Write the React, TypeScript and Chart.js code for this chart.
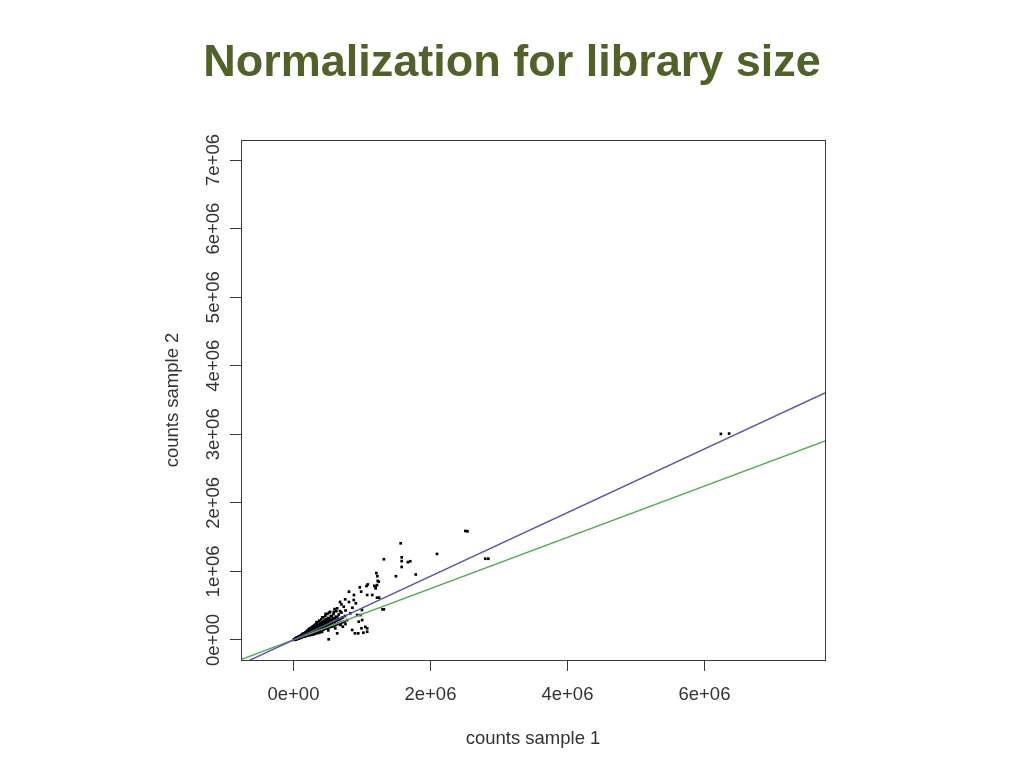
import React, { useEffect, useRef } from "react";
import { Chart, registerables } from "chart.js";

Chart.register(...registerables);

const titleText = "Normalization for library size";
const xAxisTitle = "counts sample 1";
const yAxisTitle = "counts sample 2";

const xTickValues = [0, 2000000, 4000000, 6000000];
const yTickValues = [0, 1000000, 2000000, 3000000, 4000000, 5000000, 6000000, 7000000];

const xRange = [-766000, 7760000];
const yRange = [-292000, 7292000];

// blue line (through origin, slope ~0.464) and green line (slope ~0.374): endpoints
const blueLine = [
  [-766000, -355000],
  [7760000, 3602000],
];
const greenLine = [
  [-766000, -286000],
  [7760000, 2902000],
];

// outlying genes
const outlierPoints = [
  [6240000, 3005000], [6360000, 3010000],
  [2510000, 1590000], [2540000, 1585000],
  [1565000, 1410000],
  [2095000, 1255000],
  [2800000, 1185000], [2845000, 1185000],
  [1320000, 1178000],
  [1580000, 1205000], [1580000, 1150000], [1580000, 1065000],
  [1670000, 1135000], [1705000, 1148000],
  [1785000, 955000],
  [1495000, 930000],
  [1210000, 975000], [1225000, 930000], [1245000, 850000], [1230000, 862000], [1220000, 800000], [1200000, 775000],
  [1085000, 810000], [1066000, 787000], [968000, 768000], [1180000, 790000], [1200000, 753000],
  [810000, 705000], [988000, 705000], [1076000, 656000], [1150000, 656000], [883000, 656000],
  [1220000, 617000], [1250000, 617000],
  [755000, 593000], [880000, 583000], [810000, 554000], [910000, 535000], [680000, 554000],
  [1300000, 447000], [1320000, 447000],
  [1000000, 437000], [930000, 364000], [978000, 364000], [638000, 462000], [734000, 485000], [590000, 410000], [830000, 390000],
  [1003000, 290000], [953000, 267000], [1050000, 190000], [1076000, 170000], [993000, 170000],
  [898000, 97000], [945000, 97000], [1020000, 106000], [1076000, 120000], [857000, 146000], [638000, 97000], [514000, 10000],
  [784000, 290000], [760000, 233000], [686000, 219000], [720000, 194000], [610000, 170000],
  [700000, 520000], [760000, 430000], [860000, 470000], [640000, 330000], [560000, 345000],
  [520000, 400000], [470000, 380000], [600000, 450000], [420000, 330000], [680000, 420000],
];

// dense cloud of genes near the origin
const clusterPoints = [
  [8000, 5000], [12000, 8000], [15000, 3000], [5000, 2000], [20000, 10000],
  [28000, 12000], [32000, 18000], [35000, 8000], [30000, 22000], [40000, 15000],
  [48000, 20000], [52000, 30000], [55000, 15000], [50000, 25000], [46000, 35000],
  [68000, 25000], [72000, 38000], [70000, 45000], [75000, 30000], [66000, 20000],
  [88000, 35000], [92000, 45000], [90000, 55000], [95000, 28000], [86000, 40000],
  [108000, 40000], [112000, 55000], [110000, 65000], [115000, 35000], [105000, 48000], [118000, 72000],
  [128000, 50000], [132000, 62000], [135000, 75000], [125000, 42000], [130000, 85000], [138000, 58000],
  [148000, 55000], [152000, 70000], [150000, 85000], [155000, 48000], [146000, 95000], [158000, 62000],
  [168000, 60000], [172000, 78000], [170000, 92000], [175000, 110000], [165000, 52000], [178000, 70000],
  [188000, 68000], [192000, 85000], [190000, 100000], [195000, 120000], [185000, 60000], [198000, 135000],
  [208000, 75000], [212000, 95000], [210000, 110000], [215000, 130000], [205000, 65000], [218000, 145000],
  [228000, 80000], [232000, 100000], [230000, 120000], [235000, 140000], [225000, 160000], [238000, 70000],
  [248000, 88000], [252000, 110000], [250000, 130000], [255000, 150000], [245000, 170000], [258000, 75000],
  [268000, 95000], [272000, 115000], [270000, 140000], [275000, 165000], [265000, 185000], [278000, 80000],
  [288000, 100000], [292000, 125000], [290000, 150000], [295000, 180000], [285000, 200000], [298000, 85000],
  [308000, 110000], [312000, 135000], [310000, 160000], [315000, 190000], [305000, 215000], [318000, 90000],
  [328000, 115000], [332000, 145000], [330000, 175000], [335000, 205000], [325000, 230000], [338000, 260000],
  [348000, 125000], [352000, 150000], [350000, 185000], [355000, 220000], [345000, 250000], [358000, 100000],
  [378000, 130000], [382000, 165000], [380000, 200000], [385000, 240000], [375000, 280000], [388000, 110000],
  [408000, 140000], [412000, 180000], [410000, 220000], [415000, 260000], [405000, 300000], [418000, 120000],
  [438000, 150000], [442000, 195000], [440000, 235000], [445000, 280000], [435000, 330000],
  [468000, 165000], [472000, 210000], [470000, 250000], [475000, 300000], [465000, 350000],
  [498000, 175000], [502000, 225000], [500000, 270000], [505000, 320000], [495000, 380000], [508000, 140000],
  [538000, 190000], [542000, 240000], [540000, 290000], [545000, 350000], [535000, 410000],
  [578000, 200000], [582000, 260000], [580000, 310000], [585000, 380000],
  [618000, 220000], [622000, 280000], [620000, 340000], [625000, 420000],
  [658000, 240000], [662000, 300000], [660000, 370000],
  [698000, 250000], [702000, 320000], [700000, 400000],
  [748000, 270000], [752000, 350000],
];

// extra genes filling the core of the cloud
const clusterCore = [
  [18000, 6000], [25000, 14000], [38000, 12000], [42000, 24000], [58000, 22000], [62000, 32000],
  [78000, 34000], [82000, 26000], [98000, 42000], [102000, 36000], [100000, 58000], [120000, 48000],
  [122000, 60000], [140000, 52000], [142000, 68000], [144000, 80000], [160000, 58000], [162000, 72000],
  [164000, 88000], [180000, 64000], [182000, 80000], [184000, 96000], [200000, 72000], [202000, 90000],
  [204000, 106000], [220000, 78000], [222000, 96000], [224000, 114000], [240000, 84000], [242000, 104000],
  [244000, 124000], [260000, 90000], [262000, 112000], [264000, 134000], [280000, 96000], [282000, 120000],
  [284000, 144000], [300000, 104000], [302000, 128000], [304000, 152000], [320000, 108000], [322000, 134000],
  [324000, 160000], [340000, 118000], [342000, 144000], [344000, 170000], [360000, 124000], [362000, 152000],
  [364000, 180000], [366000, 208000], [392000, 140000], [394000, 172000], [396000, 206000], [398000, 236000],
  [422000, 150000], [424000, 186000], [426000, 222000], [428000, 256000], [452000, 162000], [454000, 200000],
  [456000, 240000], [458000, 276000], [484000, 172000], [486000, 214000], [488000, 256000], [490000, 296000],
  [518000, 186000], [520000, 230000], [522000, 272000], [524000, 316000], [556000, 200000], [558000, 248000],
  [560000, 296000], [598000, 214000], [600000, 262000], [602000, 318000], [640000, 232000], [642000, 288000],
  [680000, 246000], [682000, 306000], [720000, 262000], [722000, 330000],
];

const fmtExp = (v: number) => {
  const [m, e] = v.toExponential(0).split("e");
  const sign = e[0] === "-" ? "-" : "+";
  const digits = e.replace(/[+-]/, "").padStart(2, "0");
  return `${m}e${sign}${digits}`;
};

const axisColor = "#3a3a3a";
const textColor = "#333333";
const tickFont = { family: "'Liberation Sans', Arial, sans-serif", size: 18.5 };

const boxPlugin = {
  id: "plotBox",
  afterDatasetsDraw(chart: any) {
    const { ctx, chartArea } = chart;
    ctx.save();
    ctx.strokeStyle = axisColor;
    ctx.lineWidth = 1;
    ctx.strokeRect(
      Math.round(chartArea.left) + 0.5,
      Math.round(chartArea.top) + 0.5,
      Math.round(chartArea.right - chartArea.left),
      Math.round(chartArea.bottom - chartArea.top)
    );
    ctx.restore();
  },
};

export default function App() {
  const canvasRef = useRef<HTMLCanvasElement | null>(null);

  useEffect(() => {
    if (!canvasRef.current) return;
    const toXY = (arr: number[][]) => arr.map(([x, y]) => ({ x, y }));
    const chart = new Chart(canvasRef.current, {
      type: "scatter",
      data: {
        datasets: [
          {
            label: "blue",
            data: toXY(blueLine),
            showLine: true,
            borderColor: "#5555aa",
            borderWidth: 1.4,
            pointRadius: 0,
            order: 0,
          },
          {
            label: "green",
            data: toXY(greenLine),
            showLine: true,
            borderColor: "#5aae5a",
            borderWidth: 1.4,
            pointRadius: 0,
            order: 0,
          },
          {
            label: "genes",
            data: toXY([...clusterPoints, ...clusterCore, ...outlierPoints]),
            pointStyle: "rect",
            pointRadius: 1.9,
            pointBorderWidth: 0,
            backgroundColor: "#000000",
            borderColor: "#000000",
            order: 1,
          },
        ],
      },
      options: {
        responsive: false,
        animation: false,
        layout: { padding: { left: 0, right: 0, top: 0, bottom: 0 } },
        plugins: {
          legend: { display: false },
          tooltip: { enabled: false },
          title: {
            display: true,
            text: titleText,
            color: "#4f6228",
            font: { family: "'Liberation Sans', Arial, sans-serif", size: 45, weight: "bold" },
            padding: { top: 37, bottom: 49 },
          },
        },
        scales: {
          x: {
            type: "linear",
            min: xRange[0],
            max: xRange[1],
            afterBuildTicks: (scale: any) => {
              scale.ticks = xTickValues.map((v) => ({ value: v }));
            },
            afterFit: (scale: any) => {
              scale.height = 108;
            },
            ticks: {
              color: textColor,
              font: tickFont,
              padding: 13,
              maxRotation: 0,
              autoSkip: false,
              callback: (v: any) => fmtExp(Number(v)),
            },
            grid: { drawOnChartArea: false, drawTicks: true, tickLength: 11, color: axisColor },
            border: { display: true, color: axisColor },
            title: {
              display: true,
              text: xAxisTitle,
              color: textColor,
              font: tickFont,
              padding: { top: 0, bottom: 18 },
            },
          },
          y: {
            type: "linear",
            min: yRange[0],
            max: yRange[1],
            afterBuildTicks: (scale: any) => {
              scale.ticks = yTickValues.map((v) => ({ value: v }));
            },
            afterFit: (scale: any) => {
              scale.width = 241;
            },
            ticks: {
              color: textColor,
              font: tickFont,
              padding: -10,
              minRotation: 90,
              maxRotation: 90,
              crossAlign: "center",
              autoSkip: false,
              callback: (v: any) => fmtExp(Number(v)),
            },
            grid: { drawOnChartArea: false, drawTicks: true, tickLength: 11, color: axisColor },
            border: { display: true, color: axisColor },
            title: {
              display: true,
              text: yAxisTitle,
              color: textColor,
              font: tickFont,
              padding: { top: 162, bottom: 0 },
            },
          },
          rightSpace: {
            type: "linear",
            position: "right",
            display: true,
            afterFit: (scale: any) => {
              scale.width = 199;
            },
            ticks: { display: false },
            grid: { display: false, drawTicks: false },
            border: { display: false },
          },
        },
      },
      plugins: [boxPlugin],
    } as any);
    return () => chart.destroy();
  }, []);

  return (
    <div style={{ position: "absolute", left: 0, top: 0, width: 1024, height: 768, background: "#ffffff" }}>
      <canvas ref={canvasRef} width={1024} height={768} />
    </div>
  );
}
